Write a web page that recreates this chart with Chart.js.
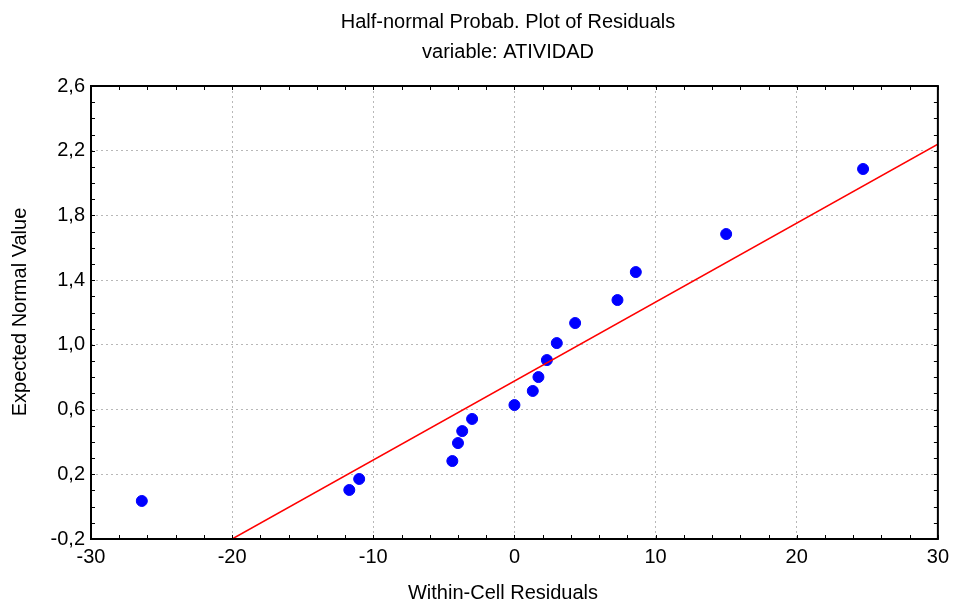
<!DOCTYPE html>
<html>
<head>
<meta charset="utf-8">
<script src="https://cdn.jsdelivr.net/npm/chart.js@4"></script>
<style>
  html, body { margin: 0; padding: 0; background: #fff; }
  #wrap { width: 955px; height: 602px; }
</style>
</head>
<body>
<div id="wrap"><canvas id="plot" width="955" height="602"></canvas></div>
<script>
// residuals vs expected half-normal value
let residuals = [-26.4, -11.7, -11.0, -4.4, -4.0, -3.7, -3.0, 0.0, 1.3, 1.7, 2.3, 3.0, 4.3, 7.3, 8.6, 15.0, 24.7]
let expected  = [0.035, 0.103, 0.171, 0.282, 0.393, 0.467, 0.542, 0.628, 0.715, 0.801, 0.906, 1.011, 1.135, 1.277, 1.450, 1.685, 2.087]
// fitted line end points
let fitX = [-20, 30]
let fitY = [-0.2, 2.24]

let titleLines = ['Half-normal Probab. Plot of Residuals', 'variable: ATIVIDAD']
let xTitle = 'Within-Cell Residuals'
let yTitle = 'Expected Normal Value'

let font = '"Liberation Sans", Arial, sans-serif'
let fsize = 20

let points = residuals.map((x, i) => ({x: x, y: expected[i]}))
let fitLine = fitX.map((x, i) => ({x: x, y: fitY[i]}))

// border box, inward minor/major ticks and texts
let frame = {
  id: 'frame',
  afterDraw(chart) {
    let c = chart.ctx, a = chart.chartArea
    let xs = chart.scales.x, ys = chart.scales.y
    c.save()
    c.strokeStyle = '#000'
    c.lineWidth = 1
    c.beginPath()
    for (let v = -30; v <= 30.001; v += 2) {
      let p = Math.round(xs.getPixelForValue(v)) + 0.5
      c.moveTo(p, a.bottom); c.lineTo(p, a.bottom - 4)
      c.moveTo(p, a.top); c.lineTo(p, a.top + 4)
    }
    for (let k = 0; k <= 28; k++) {
      let p = Math.round(ys.getPixelForValue(-0.2 + k * 0.1)) + 0.5
      c.moveTo(a.left, p); c.lineTo(a.left + 4, p)
      c.moveTo(a.right, p); c.lineTo(a.right - 4, p)
    }
    c.stroke()
    c.lineWidth = 2
    c.strokeRect(a.left, a.top, a.right - a.left, a.bottom - a.top)

    c.fillStyle = '#000'
    c.font = fsize + 'px ' + font
    c.textAlign = 'center'
    c.textBaseline = 'middle'
    c.fillText(titleLines[0], 508, 22)
    c.fillText(titleLines[1], 508, 52)
    c.fillText(xTitle, 503, 593)
    c.translate(20, 312)
    c.rotate(-Math.PI / 2)
    c.fillText(yTitle, 0, 0)
    c.restore()
  }
}

let chart = new Chart(document.getElementById('plot'), {
  type: 'scatter',
  data: {
    datasets: [
      {
        type: 'line',
        data: fitLine,
        borderColor: '#ff0000',
        borderWidth: 1.5,
        pointRadius: 0,
        fill: false
      },
      {
        data: points,
        backgroundColor: '#0000ff',
        borderColor: '#0000ff',
        pointRadius: 5.5,
        pointHoverRadius: 5.5
      }
    ]
  },
  options: {
    responsive: false,
    animation: false,
    events: [],
    layout: { padding: { top: 86, right: 15, left: 0, bottom: 0 } },
    plugins: { legend: { display: false }, tooltip: { enabled: false } },
    scales: {
      x: {
        type: 'linear',
        min: -30, max: 30,
        afterFit: s => { s.height = 63 },
        ticks: {
          stepSize: 10,
          padding: 6,
          color: '#000',
          font: { family: font, size: fsize },
          callback: v => String(Math.round(v))
        },
        grid: {
          color: '#b8b8b8',
          drawTicks: false,
          tickLength: 0
        },
        border: { display: false, dash: [2, 3] }
      },
      y: {
        type: 'linear',
        min: -0.2, max: 2.6,
        afterFit: s => { s.width = 91 },
        ticks: {
          stepSize: 0.4,
          padding: 6,
          color: '#000',
          font: { family: font, size: fsize },
          callback: v => v.toFixed(1).replace('.', ',')
        },
        grid: {
          color: '#b8b8b8',
          drawTicks: false,
          tickLength: 0
        },
        border: { display: false, dash: [2, 3] }
      }
    }
  },
  plugins: [frame]
})
</script>
</body>
</html>
